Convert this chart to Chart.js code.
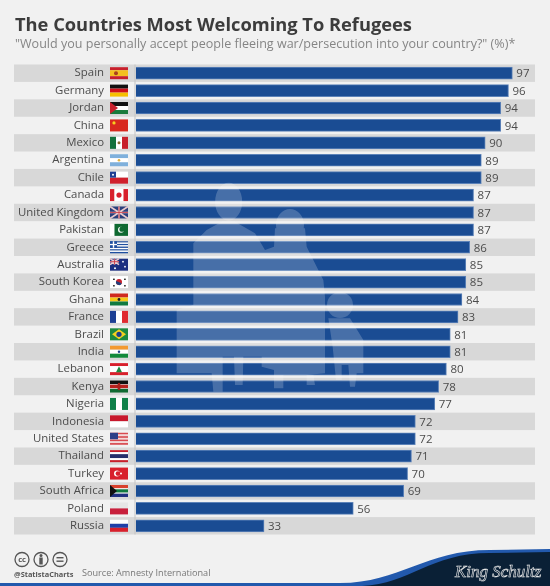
<!DOCTYPE html>
<html>
<head>
<meta charset="utf-8">
<script src="https://cdn.jsdelivr.net/npm/chart.js@4"></script>
<style>
  html, body { margin: 0; padding: 0; background: #f1f1f1; }
  body { position: relative; width: 550px; height: 586px; overflow: hidden; font-family: "Open Sans", sans-serif; }
  #wrap { position: absolute; left: 0; top: 0; width: 550px; height: 586px; }
  .txt { position: absolute; white-space: nowrap; }
  #title { left: 15px; top: 11px; font-size: 18.3px; font-weight: 700; color: #3c3c3c; }
  #subtitle { left: 15px; top: 35px; font-size: 12.55px; color: #858585; }
  #handle { left: 14px; top: 569px; font-size: 7.4px; font-weight: 700; color: #555; }
  #source { left: 82px; top: 566px; font-size: 9.15px; line-height: 14px; color: #777; }
  #deco { position: absolute; left: 0; top: 0; }
</style>
</head>
<body>
<div id="wrap"><canvas id="chart" width="550" height="586"></canvas></div>
<svg id="deco" width="550" height="586" viewBox="0 0 550 586">
  <path d="M0 583 L340 583 C400 583 425 550 490 550 L550 549 L550 586 L0 586 Z" fill="#2259ad"/>
  <path d="M362 586 C410 584 430 553 490 553 L550 552 L550 586 Z" fill="#0a2036"/>
  <g fill="none" stroke="#555" stroke-width="1.3">
    <circle cx="22" cy="559.5" r="7"/><circle cx="41" cy="559.5" r="7"/><circle cx="60" cy="559.5" r="7"/>
  </g>
  <text x="22" y="562" font-size="7.5" font-weight="700" fill="#555" text-anchor="middle" font-family="Open Sans">cc</text>
  <g fill="#555"><circle cx="41" cy="555.5" r="1.5"/><rect x="39.3" y="557.5" width="3.4" height="7"/>
    <rect x="56.5" y="557" width="7" height="1.4"/><rect x="56.5" y="560.5" width="7" height="1.4"/></g>
  <text x="455" y="577" font-size="17" font-style="italic" font-family="Liberation Serif" fill="#0a2036" stroke="#e8e8e8" stroke-width="0.6">King Schultz</text>
</svg>
<div class="txt" id="title">The Countries Most Welcoming To Refugees</div>
<div class="txt" id="subtitle">"Would you personally accept people fleeing war/persecution into your country?" (%)*</div>
<div class="txt" id="handle">@StatistaCharts</div>
<div class="txt" id="source">Source: Amnesty International</div>
<script>
const countries = ["Spain", "Germany", "Jordan", "China", "Mexico", "Argentina", "Chile", "Canada", "United Kingdom", "Pakistan", "Greece", "Australia", "South Korea", "Ghana", "France", "Brazil", "India", "Lebanon", "Kenya", "Nigeria", "Indonesia", "United States", "Thailand", "Turkey", "South Africa", "Poland", "Russia"];
const acceptShare = [97, 96, 94, 94, 90, 89, 89, 87, 87, 87, 86, 85, 85, 84, 83, 81, 81, 80, 78, 77, 72, 72, 71, 70, 69, 56, 33];

// stripes: "h" or "v", then colours with optional weights
const flags = {
  "Spain": ["h", ["#c8202c", 1], ["#f4c020", 2], ["#c8202c", 1]],
  "Germany": ["h", ["#111", 1], ["#d0101a", 1], ["#f6c000", 1]],
  "Jordan": ["h", ["#111", 1], ["#fff", 1], ["#1a7a3c", 1]],
  "China": ["h", ["#d8281e", 1]],
  "Mexico": ["v", ["#14703c", 1], ["#fff", 1], ["#c8202c", 1]],
  "Argentina": ["h", ["#7fb0dc", 1], ["#fff", 1], ["#7fb0dc", 1]],
  "Chile": ["h", ["#fff", 1], ["#d0202c", 1]],
  "Canada": ["v", ["#d8202c", 1], ["#fff", 2], ["#d8202c", 1]],
  "United Kingdom": ["h", ["#2a3f7c", 1]],
  "Pakistan": ["v", ["#fff", 1], ["#0f6a32", 3]],
  "Greece": ["h", ["#1f4fa0", 1], ["#fff", 1], ["#1f4fa0", 1], ["#fff", 1], ["#1f4fa0", 1], ["#fff", 1], ["#1f4fa0", 1], ["#fff", 1], ["#1f4fa0", 1]],
  "Australia": ["h", ["#1c2f80", 1]],
  "South Korea": ["h", ["#fff", 1]],
  "Ghana": ["h", ["#cf2a20", 1], ["#f6c818", 1], ["#0f7a40", 1]],
  "France": ["v", ["#1c3f94", 1], ["#fff", 1], ["#e02a30", 1]],
  "Brazil": ["h", ["#1c8a40", 1]],
  "India": ["h", ["#f39a30", 1], ["#fff", 1], ["#128a3a", 1]],
  "Lebanon": ["h", ["#d8202c", 1], ["#fff", 2], ["#d8202c", 1]],
  "Kenya": ["h", ["#111", 3], ["#fff", 0.4], ["#b8201c", 3], ["#fff", 0.4], ["#0f6a32", 3]],
  "Nigeria": ["v", ["#0f8048", 1], ["#fff", 1], ["#0f8048", 1]],
  "Indonesia": ["h", ["#c8182c", 1], ["#fff", 1]],
  "United States": ["h", ["#d84a50", 1], ["#f4d8d8", 1], ["#d84a50", 1], ["#f4d8d8", 1], ["#d84a50", 1], ["#f4d8d8", 1], ["#d84a50", 1]],
  "Thailand": ["h", ["#c8202c", 1], ["#fff", 1], ["#27306c", 2], ["#fff", 1], ["#c8202c", 1]],
  "Turkey": ["h", ["#d8202c", 1]],
  "South Africa": ["h", ["#d8402c", 1], ["#fff", 0.3], ["#107a40", 1], ["#fff", 0.3], ["#1f2f80", 1]],
  "Poland": ["h", ["#e6e6e6", 1], ["#c8203c", 1]],
  "Russia": ["h", ["#fff", 1], ["#1f3fa8", 1], ["#d8202c", 1]]
};

function flagDetails(ctx, name, x, y, w, h) {
  const cx = x + w / 2, cy = y + h / 2;
  const dot = (px, py, r, c) => { ctx.fillStyle = c; ctx.beginPath(); ctx.arc(px, py, r, 0, 7); ctx.fill(); };
  const tri = (c, tipX) => { ctx.fillStyle = c; ctx.beginPath(); ctx.moveTo(x, y); ctx.lineTo(tipX, cy); ctx.lineTo(x, y + h); ctx.fill(); };
  if (name === "Spain") dot(x + 6, cy, 2, "#a8401c");
  if (name === "Jordan") tri("#c8202c", x + 8);
  if (name === "China") dot(x + 4, y + 3.5, 1.6, "#f6d020");
  if (name === "Mexico") dot(cx, cy, 1.5, "#8a6a30");
  if (name === "Argentina") dot(cx, cy, 1.3, "#e0b040");
  if (name === "Chile") { ctx.fillStyle = "#1f3f94"; ctx.fillRect(x, y, 6, h / 2); dot(x + 3, y + 3, 1, "#fff"); }
  if (name === "Canada") dot(cx, cy, 2.6, "#d8202c");
  if (name === "United Kingdom" || name === "Australia") {
    const ux = name === "Australia" ? w / 2 : w, uy = name === "Australia" ? h / 2 : h;
    ctx.strokeStyle = "#e8c8cc"; ctx.lineWidth = 1.6;
    ctx.beginPath(); ctx.moveTo(x, y); ctx.lineTo(x + ux, y + uy); ctx.moveTo(x + ux, y); ctx.lineTo(x, y + uy);
    ctx.moveTo(x + ux / 2, y); ctx.lineTo(x + ux / 2, y + uy); ctx.moveTo(x, y + uy / 2); ctx.lineTo(x + ux, y + uy / 2); ctx.stroke();
    ctx.strokeStyle = "#c8303c"; ctx.lineWidth = 0.8;
    ctx.beginPath(); ctx.moveTo(x + ux / 2, y); ctx.lineTo(x + ux / 2, y + uy); ctx.moveTo(x, y + uy / 2); ctx.lineTo(x + ux, y + uy / 2); ctx.stroke();
    if (name === "Australia") { dot(x + 13, y + 3, 0.9, "#fff"); dot(x + 15, y + 8, 0.9, "#fff"); dot(x + 5, y + 9.5, 1, "#fff"); }
  }
  if (name === "Pakistan") { dot(x + 11, cy, 3, "#fff"); dot(x + 12, cy - 0.7, 2.6, "#0f6a32"); }
  if (name === "Greece") { ctx.fillStyle = "#1f4fa0"; ctx.fillRect(x, y, 7, 6.5); ctx.fillStyle = "#fff"; ctx.fillRect(x + 2.8, y, 1.4, 6.5); ctx.fillRect(x, y + 2.6, 7, 1.3); }
  if (name === "South Korea") { dot(cx, cy, 3, "#c8202c"); ctx.fillStyle = "#22407c"; ctx.beginPath(); ctx.arc(cx, cy, 3, 0.4, 3.5); ctx.fill(); ctx.fillStyle = "#333"; [[3, 2.5], [14, 2.5], [3, 9], [14, 9]].forEach(o => ctx.fillRect(x + o[0], y + o[1], 1.8, 1.4)); }
  if (name === "Ghana") dot(cx, cy, 1.4, "#222");
  if (name === "Brazil") { ctx.fillStyle = "#f2d020"; ctx.beginPath(); ctx.moveTo(x + 2, cy); ctx.lineTo(cx, y + 1); ctx.lineTo(x + w - 2, cy); ctx.lineTo(cx, y + h - 1); ctx.fill(); dot(cx, cy, 2.6, "#1c3f88"); }
  if (name === "India") dot(cx, cy, 1.2, "#22408c");
  if (name === "Lebanon") { ctx.fillStyle = "#1c8a40"; ctx.beginPath(); ctx.moveTo(cx, y + 3); ctx.lineTo(cx + 3, y + h - 3); ctx.lineTo(cx - 3, y + h - 3); ctx.fill(); }
  if (name === "Kenya") { ctx.fillStyle = "#a8201c"; ctx.beginPath(); ctx.ellipse(cx, cy, 1.6, 3.8, 0, 0, 7); ctx.fill(); }
  if (name === "United States") { ctx.fillStyle = "#2c3f88"; ctx.fillRect(x, y, 8, 6.5); }
  if (name === "Turkey") { dot(x + 7, cy, 3, "#fff"); dot(x + 8, cy, 2.4, "#d8202c"); dot(x + 11, cy, 1, "#fff"); }
  if (name === "South Africa") tri("#111", x + 7);
}

const paintBands = {
  id: "paintBands",
  beforeDraw(chart) { //before the scales, so the tick labels stay on top
    const { ctx, scales: { y } } = chart;
    const step = Math.abs(y.getPixelForValue(1) - y.getPixelForValue(0));
    ctx.save();
    countries.forEach((c, i) => {
      if (i % 2 === 0) {
        ctx.fillStyle = "#d8d8d8";
        ctx.fillRect(14, y.getPixelForValue(i) - step / 2, 521, step);
      }
    });
    ctx.fillStyle = "#c4c4c4";
    ctx.fillRect(134.5, y.top, 1, y.bottom - y.top);
    ctx.restore();
  }
};

// faint refugee family over the bars
const paintFamily = {
  id: "paintFamily",
  afterDatasetsDraw(chart) {
    const { ctx } = chart;
    const px = (x) => 150 + x / 3, py = (y) => 190 + y / 3;
    const shape = (pts) => { pts.forEach((p, i) => i ? ctx.lineTo(px(p[0]), py(p[1])) : ctx.moveTo(px(p[0]), py(p[1]))); ctx.closePath(); };
    ctx.save();
    ctx.fillStyle = "rgba(255,255,255,0.2)";
    ctx.beginPath();
    ctx.ellipse(px(236), py(35), 13.5, 19, 0, 0, 7);
    ctx.closePath();
    ctx.ellipse(px(420), py(105), 14, 16, 0, 0, 7);
    ctx.closePath();
    ctx.ellipse(px(570), py(345), 13, 13, 0, 0, 7);
    ctx.closePath();
    shape([[215, 95], [255, 95], [315, 130], [345, 180], [372, 170], [375, 115], [465, 115], [470, 170], [520, 270], [525, 320], [525, 550], [470, 555], [470, 585], [495, 585], [490, 555], [400, 555], [400, 595], [372, 595], [372, 540], [335, 530], [335, 500], [280, 500], [278, 585], [255, 585], [252, 500], [218, 500], [218, 605], [190, 605], [185, 550], [80, 550], [80, 360], [130, 345], [130, 160], [170, 120]]);
    shape([[535, 385], [600, 385], [640, 450], [640, 550], [620, 550], [615, 590], [600, 590], [595, 525], [575, 525], [575, 570], [558, 570], [548, 470]]);
    ctx.fill();
    ctx.restore();
  }
};

const paintExtras = {
  id: "paintExtras",
  afterDraw(chart) {
    const { ctx, scales: { y } } = chart;
    const meta = chart.getDatasetMeta(0);
    ctx.save();
    ctx.font = "11.5px 'Open Sans'";
    ctx.fillStyle = "#4c4c4c";
    ctx.textAlign = "left";
    ctx.textBaseline = "middle";
    meta.data.forEach((bar, i) => {
      ctx.fillText(acceptShare[i], bar.x + 4, bar.y + 1);
    });
    countries.forEach((name, i) => {
      const w = 18, h = 12, x = 110, fy = y.getPixelForValue(i) - h / 2;
      const f = flags[name], kind = f[0], parts = f.slice(1);
      const total = parts.reduce((s, p) => s + p[1], 0);
      let pos = 0;
      parts.forEach((p) => {
        ctx.fillStyle = p[0];
        if (kind === "h") ctx.fillRect(x, fy + pos / total * h, w, p[1] / total * h);
        else ctx.fillRect(x + pos / total * w, fy, p[1] / total * w, h);
        pos += p[1];
      });
      flagDetails(ctx, name, x, fy, w, h);
    });
    ctx.restore();
  }
};

new Chart(document.getElementById("chart"), {
  type: "bar",
  data: {
    labels: countries,
    datasets: [{
      data: acceptShare,
      backgroundColor: "#1a4c93",
      borderColor: "#5c82b8",
      borderWidth: 1,
      barThickness: 12,
      borderSkipped: "left",
    }],
  },
  plugins: [paintBands, paintFamily, paintExtras],
  options: {
    indexAxis: "y",
    responsive: false,
    animation: false,
    layout: { padding: { top: 64.5, bottom: 51.5, right: 26, left: 0 } },
    plugins: {
      legend: { display: false },
      tooltip: { enabled: false },
    },
    scales: {
      x: { display: false, min: 0, max: 100 },
      y: {
        afterFit: (scale) => { scale.width = 136; }, //fixed gutter for label + flag
        grid: { display: false, drawTicks: false },
        border: { display: false },
        ticks: {
          autoSkip: false,
          padding: 32,
          color: "#4c4c4c",
          font: { family: "Open Sans", size: 11.4 },
        },
      },
    },
  },
});
</script>
</body>
</html>
